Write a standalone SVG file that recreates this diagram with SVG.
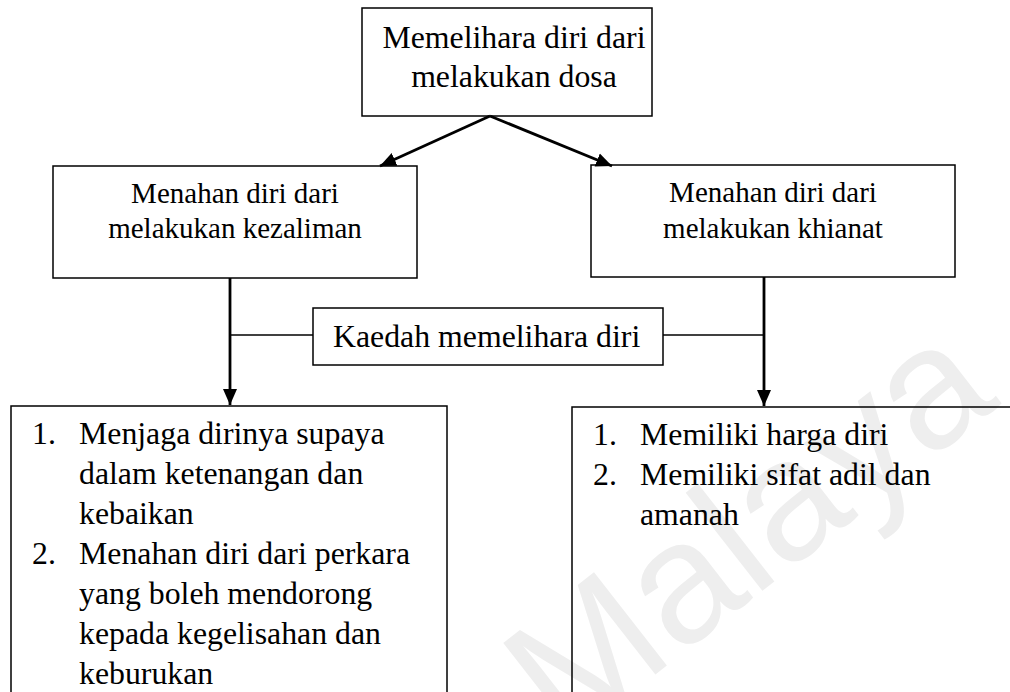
<svg xmlns="http://www.w3.org/2000/svg" width="1010" height="692" viewBox="0 0 1010 692">
<defs>
<style>
.box{fill:none;stroke:#000;stroke-width:1.5}
.t{font-family:"Liberation Serif","Times New Roman",serif;fill:#000}
.big{font-size:31.8px}
.mid{font-size:29px}
.c{text-anchor:middle}
.arrow{stroke:#000;stroke-width:2.8;fill:none}
.thin{stroke:#000;stroke-width:1.5;fill:none}
.wm{font-family:"Liberation Sans",Arial,sans-serif;font-size:172px;fill:#eeeeee}
</style>
<marker id="ah" markerUnits="userSpaceOnUse" markerWidth="16" markerHeight="16" viewBox="0 0 16 14" refX="16" refY="7" orient="auto">
<path d="M0,0 L16,7 L0,14 Z" fill="#000"/>
</marker>
</defs>
<rect width="1010" height="692" fill="#fff"/>
<text class="wm" transform="translate(565,745) rotate(-38)">Malaya</text>
<g id="connectors">
<line class="arrow" x1="490" y1="116" x2="380" y2="166" marker-end="url(#ah)"/>
<line class="arrow" x1="490" y1="116" x2="612" y2="166" marker-end="url(#ah)"/>
<line class="arrow" x1="230" y1="278" x2="230" y2="405" marker-end="url(#ah)"/>
<line class="arrow" x1="764" y1="277" x2="764" y2="406" marker-end="url(#ah)"/>
<line class="thin" x1="230" y1="335" x2="313" y2="335"/>
<line class="thin" x1="663" y1="335" x2="764" y2="335"/>
</g>
<g id="root">
<rect class="box" x="362" y="8" width="290" height="108"/>
<text class="t big c" x="514" y="48">Memelihara diri dari</text>
<text class="t big c" x="514" y="87">melakukan dosa</text>
</g>
<g id="kezaliman">
<rect class="box" x="53" y="166" width="364" height="112"/>
<text class="t mid c" x="235" y="203">Menahan diri dari</text>
<text class="t mid c" x="235" y="238">melakukan kezaliman</text>
</g>
<g id="khianat">
<rect class="box" x="591" y="165" width="364" height="112"/>
<text class="t mid c" x="773" y="202">Menahan diri dari</text>
<text class="t mid c" x="773" y="238">melakukan khianat</text>
</g>
<g id="kaedah">
<rect class="box" x="313" y="308" width="350" height="57"/>
<text class="t big" x="333" y="347">Kaedah memelihara diri</text>
</g>
<g id="list-left">
<rect class="box" x="11" y="406" width="436" height="300"/>
<text class="t big" x="32" y="444">1.</text>
<text class="t big" x="79" y="444">Menjaga dirinya supaya</text>
<text class="t big" x="79" y="484">dalam ketenangan dan</text>
<text class="t big" x="79" y="524">kebaikan</text>
<text class="t big" x="32" y="564">2.</text>
<text class="t big" x="79" y="564">Menahan diri dari perkara</text>
<text class="t big" x="79" y="604">yang boleh mendorong</text>
<text class="t big" x="79" y="644">kepada kegelisahan dan</text>
<text class="t big" x="79" y="684">keburukan</text>
</g>
<g id="list-right">
<rect class="box" x="572" y="407" width="500" height="300"/>
<text class="t big" x="593" y="445">1.</text>
<text class="t big" x="640" y="445">Memiliki harga diri</text>
<text class="t big" x="593" y="485">2.</text>
<text class="t big" x="640" y="485">Memiliki sifat adil dan</text>
<text class="t big" x="640" y="525">amanah</text>
</g>
</svg>
